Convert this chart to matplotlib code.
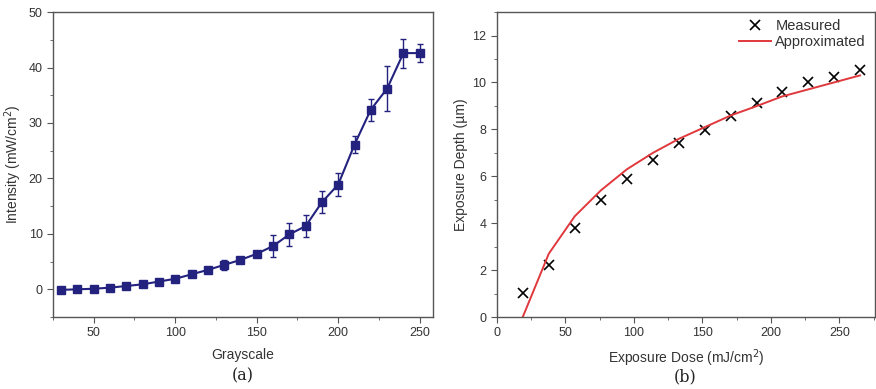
import numpy as np
import matplotlib.pyplot as plt
from matplotlib.ticker import MultipleLocator

plt.rcParams['font.family'] = ['Liberation Sans', 'DejaVu Sans']

# --- (a) intensidad vs escala de grises ---
gray = [30, 40, 50, 60, 70, 80, 90, 100, 110, 120, 130, 140, 150, 160,
        170, 180, 190, 200, 210, 220, 230, 240, 250]
intensity = [-0.1, 0.0, 0.1, 0.3, 0.6, 0.9, 1.4, 1.9, 2.7, 3.5, 4.4, 5.3,
             6.4, 7.8, 9.9, 11.4, 15.7, 18.9, 26.1, 32.4, 36.2, 42.6, 42.6]
intensity_err = [0.2, 0.2, 0.2, 0.2, 0.2, 0.3, 0.3, 0.3, 0.4, 0.4, 0.9, 0.4,
                 0.5, 2.0, 2.0, 2.0, 2.0, 2.0, 1.5, 2.0, 4.0, 2.6, 1.6]

# --- (b) profundidad vs dosis ---
dose = [19, 38, 57, 76, 95, 114, 133, 152, 171, 190, 208, 227, 246, 265]
depth = [1.02, 2.23, 3.81, 4.97, 5.88, 6.68, 7.41, 7.98, 8.59, 9.12, 9.60,
         10.01, 10.23, 10.51]
depth_fit = [0.0, 2.7, 4.3, 5.4, 6.3, 7.0, 7.6, 8.1, 8.6, 9.0, 9.4, 9.7,
             10.0, 10.3]

navy = '#23237f'
txt = '#333333'
spine_c = '#555555'

fig = plt.figure(figsize=(8.76, 3.89), dpi=100)
ax1 = fig.add_axes([0.0605, 0.185, 0.4335, 0.784])
ax2 = fig.add_axes([0.567, 0.185, 0.432, 0.784])

ax1.errorbar(gray, intensity, yerr=intensity_err, color=navy, marker='s',
             ms=6, lw=1.5, elinewidth=1.0, capsize=2.5, capthick=1.0)
ax1.set_xlim(25, 258)
ax1.set_ylim(-5, 50)
ax1.xaxis.set_major_locator(MultipleLocator(50))
ax1.xaxis.set_minor_locator(MultipleLocator(25))
ax1.yaxis.set_major_locator(MultipleLocator(10))
ax1.yaxis.set_minor_locator(MultipleLocator(5))
ax1.set_xlabel('Grayscale', fontsize=10, color=txt, labelpad=6)
ax1.set_ylabel('Intensity (mW/cm$^2$)', fontsize=10, color=txt, labelpad=3)

ax2.plot(dose, depth, 'x', color='black', ms=7.5, mew=1.2, label='Measured')
ax2.plot(dose, depth_fit, '-', color='#e0383c', lw=1.4, label='Approximated')
ax2.set_xlim(0, 276)
ax2.set_ylim(0, 13)
ax2.xaxis.set_major_locator(MultipleLocator(50))
ax2.xaxis.set_minor_locator(MultipleLocator(25))
ax2.yaxis.set_major_locator(MultipleLocator(2))
ax2.yaxis.set_minor_locator(MultipleLocator(1))
ax2.set_xlabel('Exposure Dose (mJ/cm$^2$)', fontsize=10, color=txt, labelpad=6)
ax2.set_ylabel('Exposure Depth (µm)', fontsize=10, color=txt, labelpad=3)
ax2.legend(loc='upper right', frameon=False, fontsize=10.5, handlelength=2.2,
           handletextpad=0.3, borderaxespad=0.1, labelspacing=0.1,
           labelcolor=txt, bbox_to_anchor=(0.995, 1.0))

for ax in (ax1, ax2):
    for s in ax.spines.values():
        s.set_color(spine_c)
        s.set_linewidth(1.0)
    ax.tick_params(which='both', direction='out', colors=spine_c,
                   labelcolor=txt, labelsize=9, top=False, right=False)
    ax.tick_params(which='major', length=4)
    ax.tick_params(which='minor', length=2.5)

fig.text(0.2775, 0.035, '(a)', ha='center', va='center', fontsize=11.5,
         family='DejaVu Serif', color='#222222')
fig.text(0.782, 0.03, '(b)', ha='center', va='center', fontsize=11.5,
         family='DejaVu Serif', color='#222222')

fig.savefig('out.png', dpi=100)
